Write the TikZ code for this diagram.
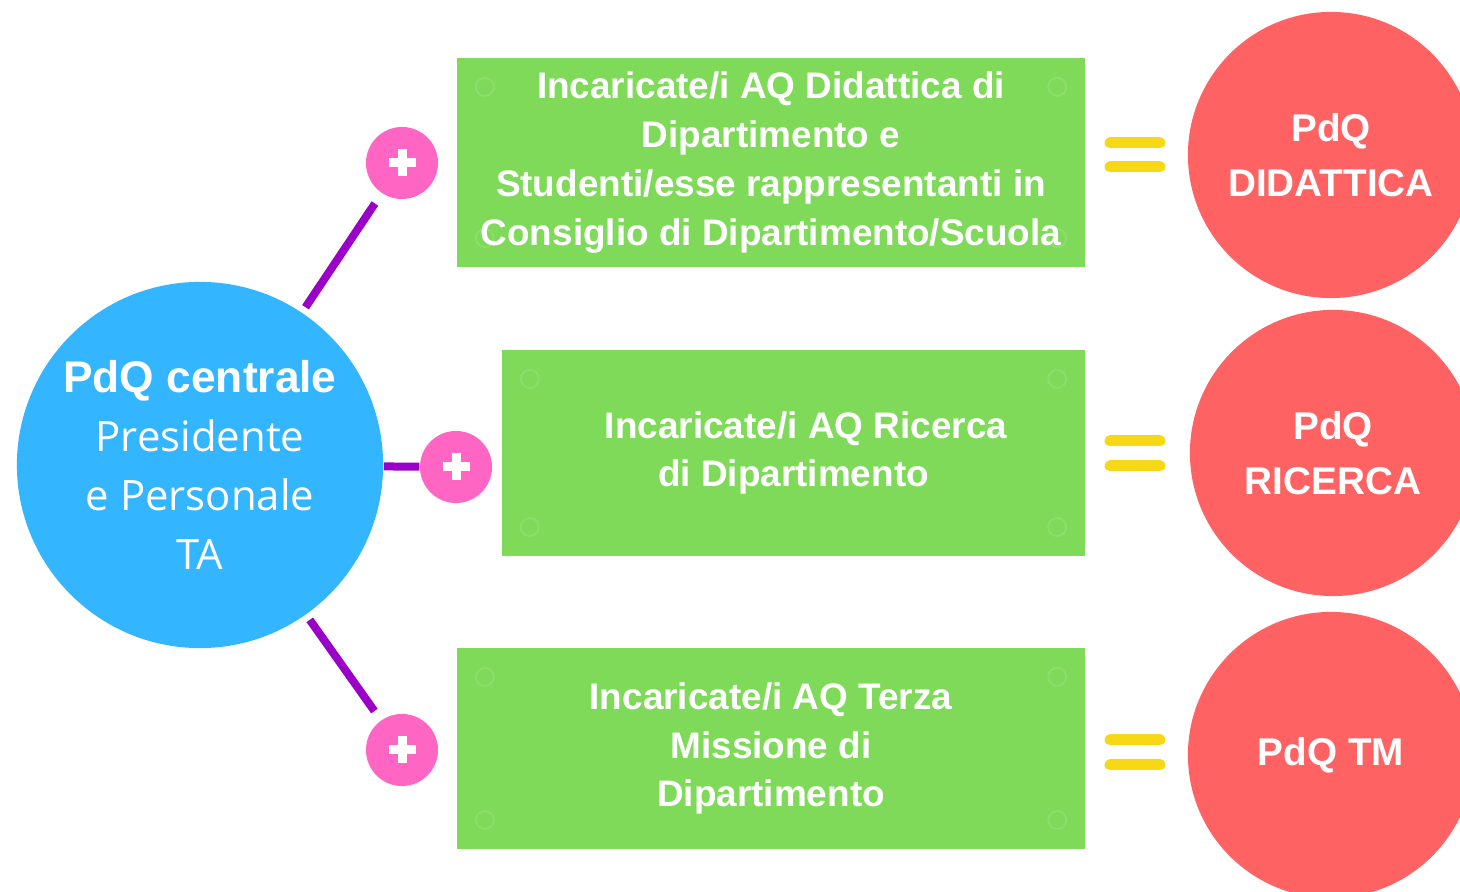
\documentclass[tikz,border=0pt]{standalone}
\usepackage{fontspec}
\setmainfont{Liberation Sans}
\newfontfamily\thinfont{Open Sans}
\usepackage{xcolor}
\usetikzlibrary{positioning, arrows.meta, shapes.geometric}
\definecolor{pdqblue}{HTML}{33B5FF}
\definecolor{pdqred}{HTML}{FF6262}
\definecolor{aqgreen}{HTML}{7FDA5A}
\definecolor{pluspink}{HTML}{FF66C4}
\definecolor{linkpurple}{HTML}{9A00C8}
\definecolor{eqyellow}{HTML}{F7D817}

\begin{document}
\begin{tikzpicture}[>=latex, x=0.01cm, y=-0.01cm,
    central/.style={circle, fill=pdqblue, text=white, minimum size=3.66cm, inner sep=0pt, align=center,
        font=\thinfont\fontsize{11.9}{16.7}\selectfont},
    aqbox/.style={rectangle, fill=aqgreen, text=white, inner sep=0pt, align=center,
        font=\bfseries\fontsize{10.5}{13.9}\selectfont,
        path picture={
            \foreach \c/\dx/\dy in {north west/28/29, north east/-28/29, south west/28/-29, south east/-28/-29}
                \draw[aqgreen!88!white, line width=0.5pt] ([shift={(\dx,\dy)}]path picture bounding box.\c) circle (0.09cm);
        }},
    plusdot/.style={circle, fill=pluspink, minimum size=0.72cm, inner sep=0pt,
        path picture={
            \fill[white] ([shift={(-13.5,-4.5)}]path picture bounding box.center) rectangle ([shift={(13.5,4.5)}]path picture bounding box.center);
            \fill[white] ([shift={(-4.5,-13.5)}]path picture bounding box.center) rectangle ([shift={(4.5,13.5)}]path picture bounding box.center);
        }},
    pdqdot/.style={circle, fill=pdqred, text=white, minimum size=2.86cm, inner sep=0pt, align=center,
        font=\bfseries\fontsize{11}{15.6}\selectfont},
    link/.style={linkpurple, line width=0.08cm},
    eqbar/.style={eqyellow, line width=0.11cm, line cap=round}]
    % Page
    \clip (0,0) rectangle (1460,892);
    \fill[white] (0,0) rectangle (1460,892);
    % Central PdQ
    \node[central] (pdq) at (200,465) {{\normalfont\fontsize{12.6}{16.7}\selectfont\bfseries PdQ centrale}\\Presidente\\e Personale\\TA};
    % Plus signs
    \node[plusdot] (plus1) at (402,163) {};
    \node[plusdot] (plus2) at (456,467) {};
    \node[plusdot] (plus3) at (402,750) {};
    % Links
    \draw[link, shorten <=0.06cm, shorten >=0.12cm] (pdq) -- (plus1);
    \draw[link] (pdq) -- (plus2);
    \draw[link, shorten <=0.06cm, shorten >=0.11cm] (pdq) -- (plus3);
    % AQ boxes
    \node[aqbox, minimum width=6.28cm, minimum height=2.09cm] (aq1) at (771,162.5)
        {Incaricate/i AQ Didattica di\\Dipartimento e\\Studenti/esse rappresentanti in\\Consiglio di Dipartimento/Scuola};
    \node[aqbox, minimum width=5.83cm, minimum height=2.06cm] (aq2) at (793.5,453)
        {\hspace*{0.25cm}Incaricate/i AQ Ricerca\\di Dipartimento};
    \node[aqbox, minimum width=6.28cm, minimum height=2.01cm] (aq3) at (771,748.5)
        {Incaricate/i AQ Terza\\Missione di\\Dipartimento};
    % Equals signs
    \foreach \y in {143,167,441,466,740,765}
        \draw[eqbar] (1110,\y) -- (1160,\y);
    % PdQ results
    \node[pdqdot] (did) at (1331,155) {PdQ\\DIDATTICA};
    \node[pdqdot] (ric) at (1333,453) {PdQ\\RICERCA};
    \node[pdqdot] (tm) at (1331,755) {PdQ TM};
\end{tikzpicture}
\end{document}
